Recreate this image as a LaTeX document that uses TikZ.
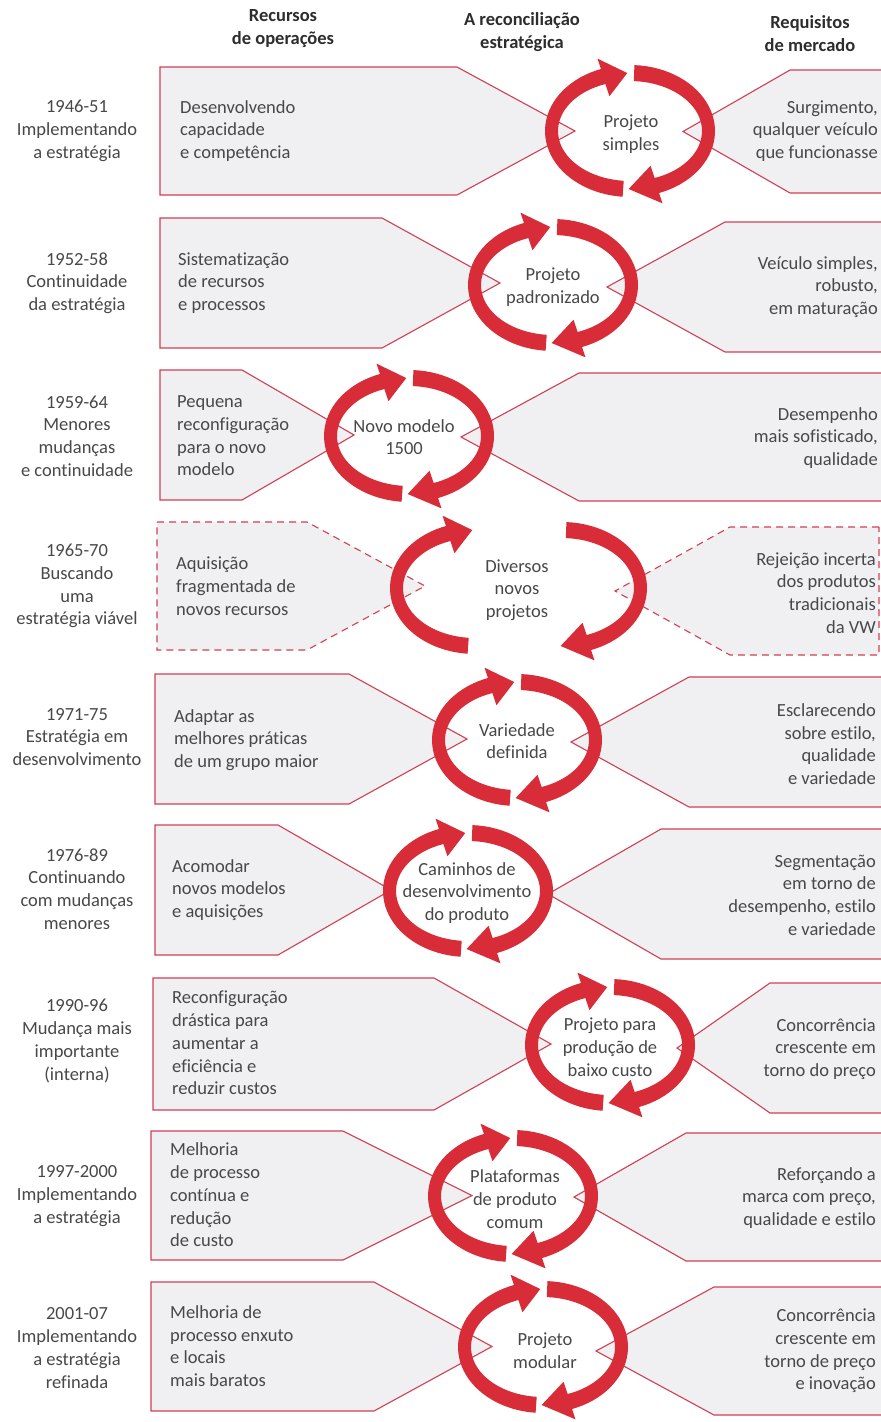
\documentclass[tikz,border=0pt]{standalone}
\usepackage{fontspec}
\setmainfont{Carlito}[Ligatures=NoCommon]
\definecolor{ringred}{RGB}{216,44,56}
\definecolor{boxline}{RGB}{208,64,84}
\definecolor{boxfill}{RGB}{240,239,242}
\definecolor{txt}{RGB}{72,72,72}
\definecolor{head}{RGB}{45,45,45}

% left resource box: style, x0, ytop, ybottom, end of top edge, tip x
\newcommand\resbox[6]{%
  \path[#1] (#2,#3) -- (#5,#3) -- (#6,{(#3+#4)/2}) -- (#5,#4) -- (#2,#4) -- cycle;}
% right market box: style, right x, ytop, ybottom, corner x, tip x
\newcommand\mktbox[6]{%
  \path[#1] (#2,#3) -- (#5,#3) -- (#6,{(#3+#4)/2}) -- (#5,#4) -- (#2,#4) -- cycle;}
% pair of circular arrows: left-half centre x, right-half centre x, centre y
\newcommand\ringpair[3]{%
  \fill[ringfill] plot[domain=95:250,samples=40] ({#1+85*cos(\x)},{#3+66*sin(\x)})
    -- ({#1+95*cos(250)},{#3+77*sin(250)})
    -- ({#1+78.5*cos(268)},{#3+58*sin(268)})
    -- ({#1+60*cos(250)},{#3+37*sin(250)})
    -- plot[domain=250:95,samples=40] ({#1+72*cos(\x)},{#3+50*sin(\x)}) -- cycle;
  \fill[ringfill] plot[domain=-87:70,samples=40] ({#2+85*cos(\x)},{#3+66*sin(\x)})
    -- ({#2+95*cos(70)},{#3+77*sin(70)})
    -- ({#2+78.5*cos(91)},{#3+58*sin(91)})
    -- ({#2+60*cos(70)},{#3+37*sin(70)})
    -- plot[domain=70:-87,samples=40] ({#2+72*cos(\x)},{#3+50*sin(\x)}) -- cycle;}

\begin{document}
\begin{tikzpicture}[x=1pt,y=-1pt,
  solidbox/.style={fill=boxfill,draw=boxline,line width=1.1pt,line join=miter},
  dashbox/.style={fill=boxfill,draw=boxline,line width=1.1pt,dash pattern=on 7pt off 5pt},
  ringfill/.style={fill=ringred},
  body/.style={text=txt,inner sep=0pt,font=\fontsize{18.5}{22.7}\selectfont},
  period/.style={body,align=center,anchor=center},
  restext/.style={body,align=left,anchor=west},
  mkttext/.style={body,align=right,anchor=east},
  midtext/.style={body,align=center,anchor=center},
  header/.style={text=head,inner sep=0pt,align=center,font=\bfseries\fontsize{18.5}{23}\selectfont}]
\useasboundingbox (0,0) rectangle (881,1422);
\fill[white] (0,0) rectangle (881,1422);

% column headings
\node[header] (hres) at (283,29) {Recursos\\de operações};
\node[header] (hrec) at (522,32) {A reconciliação\\estratégica};
\node[header] (hmkt) at (810,34) {Requisitos\\de mercado};

% boxes
\resbox{solidbox}{160}{67}{195}{457}{575}
\mktbox{solidbox}{890}{70}{193}{790}{683}
\resbox{solidbox}{160}{218}{348}{382}{500}
\mktbox{solidbox}{890}{222}{352}{725}{607}
\resbox{solidbox}{160}{370}{500}{242}{354}
\mktbox{solidbox}{890}{373}{501}{579}{461}
\resbox{dashbox}{157}{522}{650}{307}{425}
\mktbox{dashbox}{879}{527}{655}{730}{615}
\resbox{solidbox}{155}{674}{804}{349}{467}
\mktbox{solidbox}{890}{677}{807}{689}{571}
\resbox{solidbox}{155}{825}{955}{278}{391}
\mktbox{solidbox}{890}{829}{959}{661}{548}
\resbox{solidbox}{153}{978}{1110}{434}{551}
\mktbox{solidbox}{890}{983}{1113}{770}{677}
\resbox{solidbox}{151}{1131}{1260}{343}{472}
\mktbox{solidbox}{890}{1133}{1261}{686}{574}
\resbox{solidbox}{151}{1282}{1411}{374}{492}
\mktbox{solidbox}{890}{1287}{1415}{714}{596}

% circular arrows
\ringpair{630}{630}{131}
\ringpair{553}{553}{285}
\ringpair{409}{409}{436}
\ringpair{475}{562}{588}
\ringpair{517}{517}{740}
\ringpair{468}{468}{891}
\ringpair{610}{610}{1045}
\ringpair{513}{513}{1196}
\ringpair{543}{543}{1347}

% row 1
\node[period] (p1) at (77,131) {1946-51\\Implementando\\a estratégia};
\node[restext] (a1) at (180,131) {Desenvolvendo\\capacidade\\e competência};
\node[midtext] (m1) at (631,134) {Projeto\\simples};
\node[mkttext] (k1) at (878,131) {Surgimento,\\qualquer veículo\\que funcionasse};
% row 2
\node[period] (p2) at (77,283) {1952-58\\Continuidade\\da estratégia};
\node[restext] (a2) at (178,283) {Sistematização\\de recursos\\e processos};
\node[midtext] (m2) at (553,287) {Projeto\\padronizado};
\node[mkttext] (k2) at (878,287) {Veículo simples,\\robusto,\\em maturação};
% row 3
\node[period] (p3) at (77,436) {1959-64\\Menores\\mudanças\\e continuidade};
\node[restext] (a3) at (177,436) {Pequena\\reconfiguração\\para o novo\\modelo};
\node[midtext] (m3) at (404,437) {Novo modelo\\1500};
\node[mkttext] (k3) at (878,438) {Desempenho\\mais sofisticado,\\qualidade};
% row 4
\node[period] (p4) at (77,586) {1965-70\\Buscando\\uma\\estratégia viável};
\node[restext] (a4) at (176,586) {Aquisição\\fragmentada de\\novos recursos};
\node[midtext] (m4) at (517,590) {Diversos\\novos\\projetos};
\node[mkttext] (k4) at (876,593) {Rejeição incerta\\dos produtos\\tradicionais\\da VW};
% row 5
\node[period] (p5) at (77,737) {1971-75\\Estratégia em\\desenvolvimento};
\node[restext] (a5) at (174,740) {Adaptar as\\melhores práticas\\de um grupo maior};
\node[midtext] (m5) at (517,741) {Variedade\\definida};
\node[mkttext] (k5) at (876,744) {Esclarecendo\\sobre estilo,\\qualidade\\e variedade};
% row 6
\node[period] (p6) at (77,889) {1976-89\\Continuando\\com mudanças\\menores};
\node[restext] (a6) at (172,890) {Acomodar\\novos modelos\\e aquisições};
\node[midtext] (m6) at (467,893) {Caminhos de\\desenvolvimento\\do produto};
\node[mkttext] (k6) at (876,895) {Segmentação\\em torno de\\desempenho, estilo\\e variedade};
% row 7
\node[period] (p7) at (77,1041) {1990-96\\Mudança mais\\importante\\(interna)};
\node[restext] (a7) at (172,1043) {Reconfiguração\\drástica para\\aumentar a\\eficiência e\\reduzir custos};
\node[midtext] (m7) at (610,1047) {Projeto para\\produção de\\baixo custo};
\node[mkttext] (k7) at (876,1049) {Concorrência\\crescente em\\torno do preço};
% row 8
\node[period] (p8) at (77,1196) {1997-2000\\Implementando\\a estratégia};
\node[restext] (a8) at (170,1195) {Melhoria\\de processo\\contínua e\\redução\\de custo};
\node[midtext] (m8) at (515,1199) {Plataformas\\de produto\\comum};
\node[mkttext] (k8) at (876,1198) {Reforçando a\\marca com preço,\\qualidade e estilo};
% row 9
\node[period] (p9) at (77,1348) {2001-07\\Implementando\\a estratégia\\refinada};
\node[restext] (a9) at (170,1346) {Melhoria de\\processo enxuto\\e locais\\mais baratos};
\node[midtext] (m9) at (545,1351) {Projeto\\modular};
\node[mkttext] (k9) at (876,1351) {Concorrência\\crescente em\\torno de preço\\e inovação};
\end{tikzpicture}
\end{document}
